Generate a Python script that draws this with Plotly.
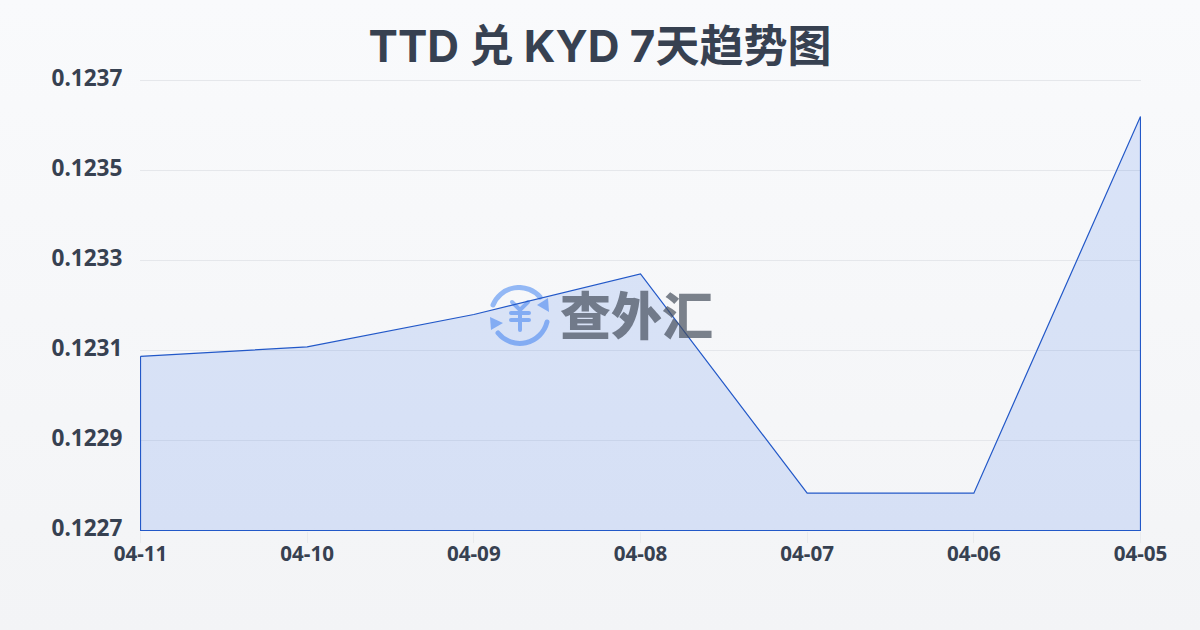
import base64
import plotly.graph_objects as go

dates = ["04-11", "04-10", "04-09", "04-08", "04-07", "04-06", "04-05"]
rates = [0.123087, 0.123108, 0.12318, 0.12327, 0.122783, 0.122783, 0.12362]
y_ticks = [0.1227, 0.1229, 0.1231, 0.1233, 0.1235, 0.1237]
y_labels = ["0.1227", "0.1229", "0.1231", "0.1233", "0.1235", "0.1237"]
baseline = 0.1227
title = "TTD 兑 KYD 7天趋势图"
brand = "查外汇"

INK = "#374151"
FONT = "'Noto Sans', 'Noto Sans CJK SC', sans-serif"

# half-pixel padding so the axis edges land where the reference strokes sit
x_pad = 0.5 / (1000 / (len(dates) - 1))
y_pad = 0.5 / 450 * (y_ticks[-1] - y_ticks[0])


def data_uri(svg):
    return "data:image/svg+xml;base64," + base64.b64encode(svg.encode()).decode()


bg_svg = ('<svg xmlns="http://www.w3.org/2000/svg" width="1200" height="630">'
          '<defs><linearGradient id="g" x1="0" y1="0" x2="0" y2="1">'
          '<stop offset="0" stop-color="#f9fafc"/><stop offset="1" stop-color="#f3f4f6"/>'
          '</linearGradient></defs><rect width="1200" height="630" fill="url(#g)"/></svg>')

icon_svg = ('<svg xmlns="http://www.w3.org/2000/svg" width="64" height="64" viewBox="0 0 64 64">'
            '<g fill="none" stroke="#93b8f5" stroke-width="5" stroke-linecap="round">'
            '<path d="M5 20 A28 28 0 0 1 52 12"/><path d="M59 37 A28 28 0 0 1 10 48"/>'
            '<path d="M24 17 L32 25 L40 17 M23 28 H41 M23 35 H41 M32 25 V45" stroke-width="4"/>'
            '</g><g fill="#93b8f5"><path d="M60 13 L61 27 L49 20 Z"/><path d="M2 32 L3 45 L15 38 Z"/></g></svg>')

fig = go.Figure()
fig.add_trace(go.Scatter(
    x=dates + [dates[-1], dates[0], dates[0]],
    y=rates + [baseline, baseline, rates[0]],
    mode="lines",
    fill="toself",
    fillcolor="rgba(37,99,235,0.14)",
    line=dict(color="#2258c8", width=1.2),
    hoverinfo="skip",
    showlegend=False,
))

PH = 451  # plot height in px
PW = 1001  # plot width in px

fig.update_layout(
    width=1200,
    height=630,
    margin=dict(l=140, r=59, t=80, b=99),
    paper_bgcolor="#f6f7f9",
    plot_bgcolor="rgba(0,0,0,0)",
    font=dict(family=FONT, color=INK),
    title=dict(
        text=f"<b>{title}</b>",
        x=0.5, xanchor="center",
        y=1 - 47 / 630, yanchor="middle",
        font=dict(size=44, color=INK, family="Inter, 'Noto Sans CJK SC', sans-serif"),
    ),
    xaxis=dict(
        type="category",
        categoryorder="array",
        categoryarray=dates,
        range=[-x_pad, len(dates) - 1 + x_pad],
        showgrid=False,
        zeroline=False,
        showline=False,
        ticks="outside",
        ticklen=11,
        tickcolor="#e9ebee",
        ticklabelstandoff=-7,
        tickfont=dict(size=20.6, color=INK, family=FONT, weight="bold"),
    ),
    yaxis=dict(
        range=[y_ticks[0] - y_pad, y_ticks[-1] + y_pad],
        tickmode="array",
        tickvals=y_ticks,
        ticktext=y_labels,
        showgrid=True,
        gridcolor="#e5e7eb",
        gridwidth=1,
        zeroline=False,
        showline=False,
        ticks="outside",
        ticklen=12,
        tickcolor="rgba(0,0,0,0)",
        ticklabelshift=-2,
        tickfont=dict(size=22.6, color=INK, family=FONT, weight="bold"),
    ),
    shapes=[
        dict(type="line", xref="paper", x0=0, x1=1, yref="y", y0=y_ticks[-1], y1=y_ticks[-1],
             line=dict(color="#e5e7eb", width=1), layer="below"),
    ],
    images=[
        dict(source=data_uri(bg_svg), xref="paper", yref="paper", x=-140 / PW, y=1 + 80 / PH,
             sizex=1200 / PW, sizey=630 / PH, xanchor="left", yanchor="top",
             sizing="stretch", layer="below"),
        dict(source=data_uri(icon_svg), xref="paper", yref="paper", x=(488 - 140) / PW, y=1 - (285 - 80) / PH,
             sizex=64 / PW, sizey=64 / PH, xanchor="left", yanchor="top",
             sizing="stretch", layer="below"),
    ],
    annotations=[
        dict(text=brand, xref="paper", yref="paper",
             x=(636 - 140) / PW, y=1 - (313 - 80) / PH, xanchor="center", yanchor="middle",
             showarrow=False, font=dict(size=51, color="rgba(70,78,92,0.7)", weight=900,
                                        family="'Noto Sans CJK SC', sans-serif")),
    ],
)

fig.write_html("out.html", config={"displayModeBar": False},
               post_script="document.body.style.margin='0';document.documentElement.style.overflow='hidden';")
